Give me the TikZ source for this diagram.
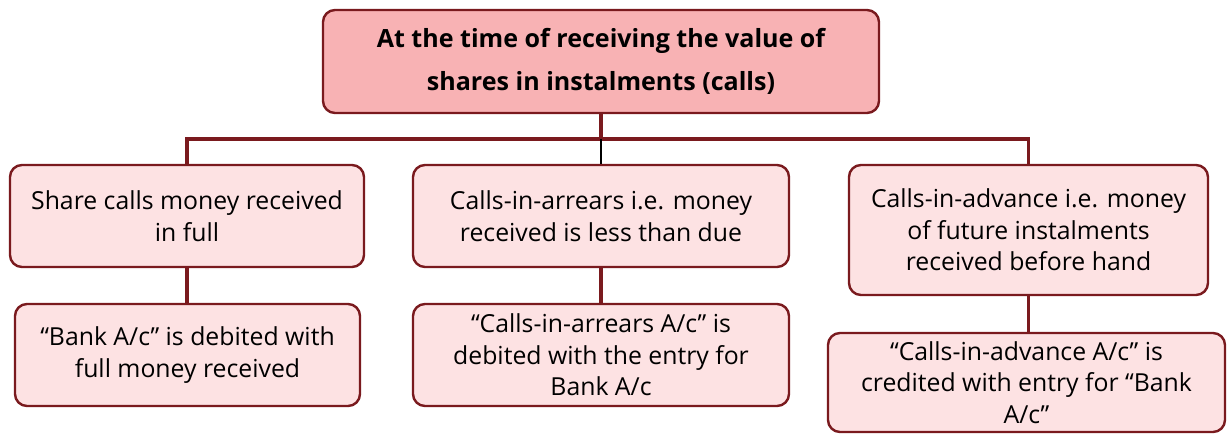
\documentclass[tikz,border=0pt]{standalone}
\usepackage{fontspec}
\setmainfont{Open Sans}
\usetikzlibrary{calc}
\definecolor{boxline}{HTML}{7A1A1E}
\definecolor{headfill}{HTML}{F8B2B4}
\definecolor{subfill}{HTML}{FDE2E3}

\begin{document}
\begin{tikzpicture}[x=0.75pt, y=-0.75pt,
	headbox/.style={draw=boxline, line width=1.8pt, fill=headfill, rounded corners=9pt,
		align=center, inner sep=0pt, font=\fontsize{18.8}{32}\selectfont\bfseries},
	subbox/.style={draw=boxline, line width=1.8pt, fill=subfill, rounded corners=9pt,
		align=center, inner sep=0pt, minimum height=76.5pt, font=\fontsize{18.6}{23.6}\selectfont},
	link/.style={draw=boxline, line width=2.6pt}]
			%%%%% START %%%%%
			
			\useasboundingbox (0, 0) rectangle (1227, 434);
			
			\node[headbox, minimum width=417pt, minimum height=77.25pt] (head) at (601, 61.5)
				{At the time of receiving the value of\\shares in instalments (calls)};
			
			\node[subbox, minimum width=265.5pt] (full) at (187, 216)
				{Share calls money received\\in full};
			\node[subbox, minimum width=282pt] (arrears) at (601, 216)
				{Calls-in-arrears i.e. money\\received is less than due};
			\node[subbox, minimum width=269.25pt, minimum height=97.5pt] (advance) at (1028.5, 230)
				{Calls-in-advance i.e. money\\of future instalments\\received before hand};
			
			\node[subbox, minimum width=258.75pt] (fullentry) at (187.5, 355)
				{``Bank A/c'' is debited with\\full money received};
			\node[subbox, minimum width=282pt] (arrearsentry) at (601, 355)
				{``Calls-in-arrears A/c'' is\\debited with the entry for\\Bank A/c};
			\node[subbox, minimum width=297.75pt, minimum height=74.25pt] (advanceentry) at (1026.5, 382.5)
				{``Calls-in-advance A/c'' is\\credited with entry for ``Bank\\A/c''};
			
			\coordinate (split) at (601, 139);
			
			\draw[link] (head.south) -- (split);
			\draw[link] (split) -| (full.north);
			\draw[link] (split) -| (advance.north);
			\draw[line width=1.2pt] (split) -- (arrears.north);
			
			\draw[link] (full.south) -- (full.south |- fullentry.north);
			\draw[link] (arrears.south) -- (arrearsentry.north);
			\draw[link] (advance.south) -- (advance.south |- advanceentry.north);
			
			%%%%% END %%%%%
		\end{tikzpicture}
\end{document}
